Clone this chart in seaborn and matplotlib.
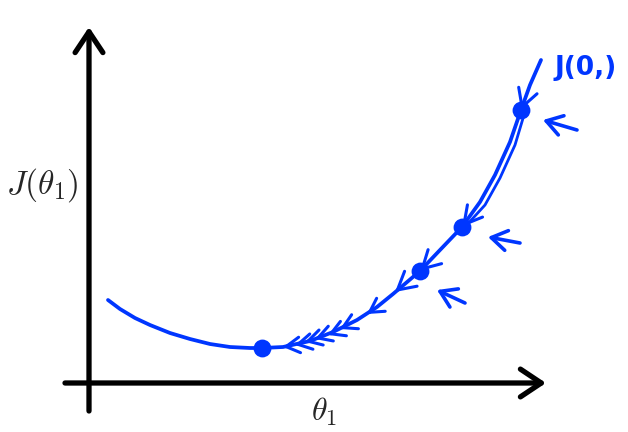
import numpy as np
import matplotlib
matplotlib.use("Agg")
import matplotlib.pyplot as plt
import seaborn as sns

# === Dados (theta_1, J) ===
theta = [0.19, 0.31, 0.46, 0.61, 0.81, 1.01, 1.21, 1.41, 1.61, 1.73, 1.94, 2.21,
         2.44, 2.68, 2.88, 3.04, 3.31, 3.51, 3.73, 3.91, 4.06, 4.21, 4.32, 4.41, 4.52]
cost = [0.83, 0.74, 0.65, 0.58, 0.50, 0.44, 0.39, 0.36, 0.35, 0.35, 0.36, 0.42,
        0.51, 0.63, 0.76, 0.89, 1.12, 1.33, 1.56, 1.81, 2.08, 2.41, 2.73, 2.98, 3.23]

# segundo traço (linha dupla na parte de cima)
theta_2 = [3.75, 3.96, 4.11, 4.26, 4.35]
cost_2 = [1.55, 1.78, 2.05, 2.38, 2.68]

# passos do gradiente
step_theta = [4.32, 3.73, 3.31, 1.73]
step_cost = [2.73, 1.56, 1.12, 0.35]

# pequenas setas sobre a curva
chev_theta = [4.32, 3.73, 3.31, 3.06, 2.78, 2.51, 2.39, 2.26, 2.16, 2.06, 1.94]
chev_cost = [2.73, 1.56, 1.12, 0.91, 0.69, 0.54, 0.48, 0.44, 0.41, 0.38, 0.36]

# setas desenhadas à mão (cauda -> ponta)
hand_tail = [(4.88, 2.53), (4.31, 1.40), (3.76, 0.80)]
hand_head = [(4.54, 2.63), (3.99, 1.46), (3.48, 0.93)]

blue = "#0036ff"

sns.set_style("white")
plt.rcParams["mathtext.fontset"] = "cm"

fig = plt.figure(figsize=(6.28, 4.32), dpi=100)
ax = fig.add_axes([0, 0, 1, 1])
ax.set_xlim(-0.89, 5.39)
ax.set_ylim(-0.49, 3.83)
ax.axis("off")

# eixos com setas
ax.annotate("", xy=(4.57, 0), xytext=(-0.24, 0),
            arrowprops=dict(arrowstyle="->,head_length=0.75,head_width=0.5",
                            lw=3.8, color="black", mutation_scale=20,
                            shrinkA=0, shrinkB=0))
ax.annotate("", xy=(0, 3.56), xytext=(0, -0.28),
            arrowprops=dict(arrowstyle="->,head_length=0.75,head_width=0.5",
                            lw=3.8, color="black", mutation_scale=20,
                            shrinkA=0, shrinkB=0))

ax.text(-0.47, 1.98, r"$J(\theta_1)$", fontsize=24, ha="center", va="center")
ax.text(2.35, -0.29, r"$\theta_1$", fontsize=23, ha="center", va="center")

# curva de custo
sns.lineplot(x=theta, y=cost, sort=False, color=blue, lw=2.7, ax=ax,
             solid_capstyle="round")
sns.lineplot(x=theta_2, y=cost_2, sort=False, color=blue, lw=2.0, ax=ax,
             solid_capstyle="round")

# pontos dos passos
sns.scatterplot(x=step_theta, y=step_cost, color=blue, s=165,
                edgecolor=blue, linewidth=0, ax=ax, zorder=5)

# setinhas ao longo da curva
slope = np.gradient(np.array(cost), np.array(theta))
for i, (t, c) in enumerate(zip(chev_theta, chev_cost)):
    m = np.interp(t, theta, slope)
    d = 0.06 / np.sqrt(1 + m ** 2)
    big = i < 4
    ax.annotate("", xy=(t, c), xytext=(t + d, c + d * m),
                arrowprops=dict(arrowstyle="->,head_length=%.2f,head_width=%.2f"
                                % ((0.9, 0.5) if big else (0.7, 0.4)),
                                lw=2.2, color=blue, mutation_scale=14,
                                shrinkA=0, shrinkB=0))

# setas à direita
for (tx, ty), (hx, hy) in zip(hand_tail, hand_head):
    ax.annotate("", xy=(hx, hy), xytext=(tx, ty),
                arrowprops=dict(arrowstyle="->,head_length=0.7,head_width=0.45",
                                lw=2.6, color=blue, mutation_scale=16,
                                shrinkA=0, shrinkB=0))

ax.text(4.97, 3.15, "J(0,)", fontsize=19, fontweight="bold", color=blue,
        ha="center", va="center")

plt.savefig("out.png", dpi=100)
